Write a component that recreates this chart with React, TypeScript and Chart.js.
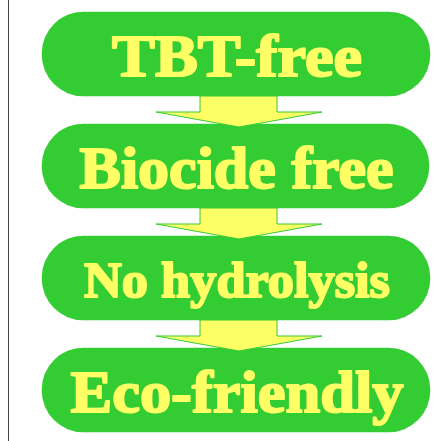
import React, { useEffect, useRef } from "react";
import { Chart, registerables } from "chart.js";

Chart.register(...registerables);

// Flow steps (categories) and the horizontal extent of each rounded box
const steps = ["TBT-free", "Biocide free", "No hydrolysis", "Eco-friendly"];
const boxStart = [42, 42, 42, 42];
const boxEnd = [430, 429, 430, 430];

// Arrow geometry in x-axis units (shaft and head extents)
const arrowShaft = [200, 277];
const arrowHead = [156, 322];

const GREEN = "#33CC33";
const YELLOW = "#FFFF66";
// label styling: font size and rendered width of each label
const labelSizes = [60, 60, 51, 60];
const labelWidths = [252, 316, 308, 335];

const flowPlugin = {
  id: "flowDecor",
  afterDatasetsDraw(chart: any) {
    const ctx = chart.ctx;
    const meta = chart.getDatasetMeta(0);
    const xs = chart.scales.x;
    const sL = xs.getPixelForValue(arrowShaft[0]);
    const sR = xs.getPixelForValue(arrowShaft[1]);
    const hL = xs.getPixelForValue(arrowHead[0]);
    const hR = xs.getPixelForValue(arrowHead[1]);
    const cx = (hL + hR) / 2;
    ctx.save();
    for (let i = 0; i < meta.data.length - 1; i++) {
      const a = meta.data[i];
      const b = meta.data[i + 1];
      const top = a.y + a.height / 2;
      const nextTop = b.y - b.height / 2;
      const base = top + 16;
      const tip = nextTop + 3;
      ctx.beginPath();
      ctx.moveTo(sL, top);
      ctx.lineTo(sR, top);
      ctx.lineTo(sR, base);
      ctx.lineTo(hR, base);
      ctx.lineTo(cx, tip);
      ctx.lineTo(hL, base);
      ctx.lineTo(sL, base);
      ctx.closePath();
      ctx.fillStyle = YELLOW;
      ctx.fill();
      ctx.strokeStyle = GREEN;
      ctx.lineWidth = 1;
      ctx.stroke();
    }
    ctx.restore();
    // labels (bold serif, emboldened with a stroke)
    meta.data.forEach((el: any, i: number) => {
      const size = labelSizes[i];
      ctx.save();
      ctx.font = `bold ${size}px 'Liberation Serif', 'Times New Roman', serif`;
      ctx.textAlign = "center";
      ctx.textBaseline = "alphabetic";
      const w = ctx.measureText(steps[i]).width + 2;
      const sx = labelWidths[i] / w;
      const centerX = (el.x + el.base) / 2 + 1;
      const baseY = el.y + size * 0.3 + 4;
      ctx.translate(centerX, baseY);
      ctx.scale(sx, 1);
      ctx.fillStyle = YELLOW;
      ctx.strokeStyle = YELLOW;
      ctx.lineWidth = 2;
      ctx.lineJoin = "round";
      ctx.strokeText(steps[i], 0, 0);
      ctx.fillText(steps[i], 0, 0);
      ctx.restore();
    });
  },
};

export default function App() {
  const ref = useRef<HTMLCanvasElement | null>(null);
  useEffect(() => {
    if (!ref.current) return;
    const chart = new Chart(ref.current, {
      type: "bar",
      data: {
        labels: steps,
        datasets: [
          {
            data: steps.map((_, i) => [boxStart[i], boxEnd[i]]) as any,
            backgroundColor: GREEN,
            borderWidth: 0,
            borderRadius: 42,
            borderSkipped: false,
            barThickness: 84,
          },
        ],
      },
      options: {
        indexAxis: "y",
        animation: false,
        responsive: false,
        devicePixelRatio: 1,
        layout: { padding: { left: 8, right: 0, top: 0, bottom: 0 } },
        plugins: { legend: { display: false }, tooltip: { enabled: false } },
        scales: {
          x: { type: "linear", display: false, min: 8, max: 446 },
          y: {
            type: "category",
            display: true,
            offset: true,
            grid: { display: false, drawTicks: false, tickLength: 0 },
            ticks: { display: false },
            border: { display: true, color: "#444444", width: 1 },
          },
        },
      },
      plugins: [flowPlugin],
    });
    return () => chart.destroy();
  }, []);
  return (
    <div style={{ position: "fixed", left: 0, top: -2, width: 446, height: 448, background: "#fff" }}>
      <canvas ref={ref} width={446} height={448} style={{ display: "block" }} />
    </div>
  );
}
